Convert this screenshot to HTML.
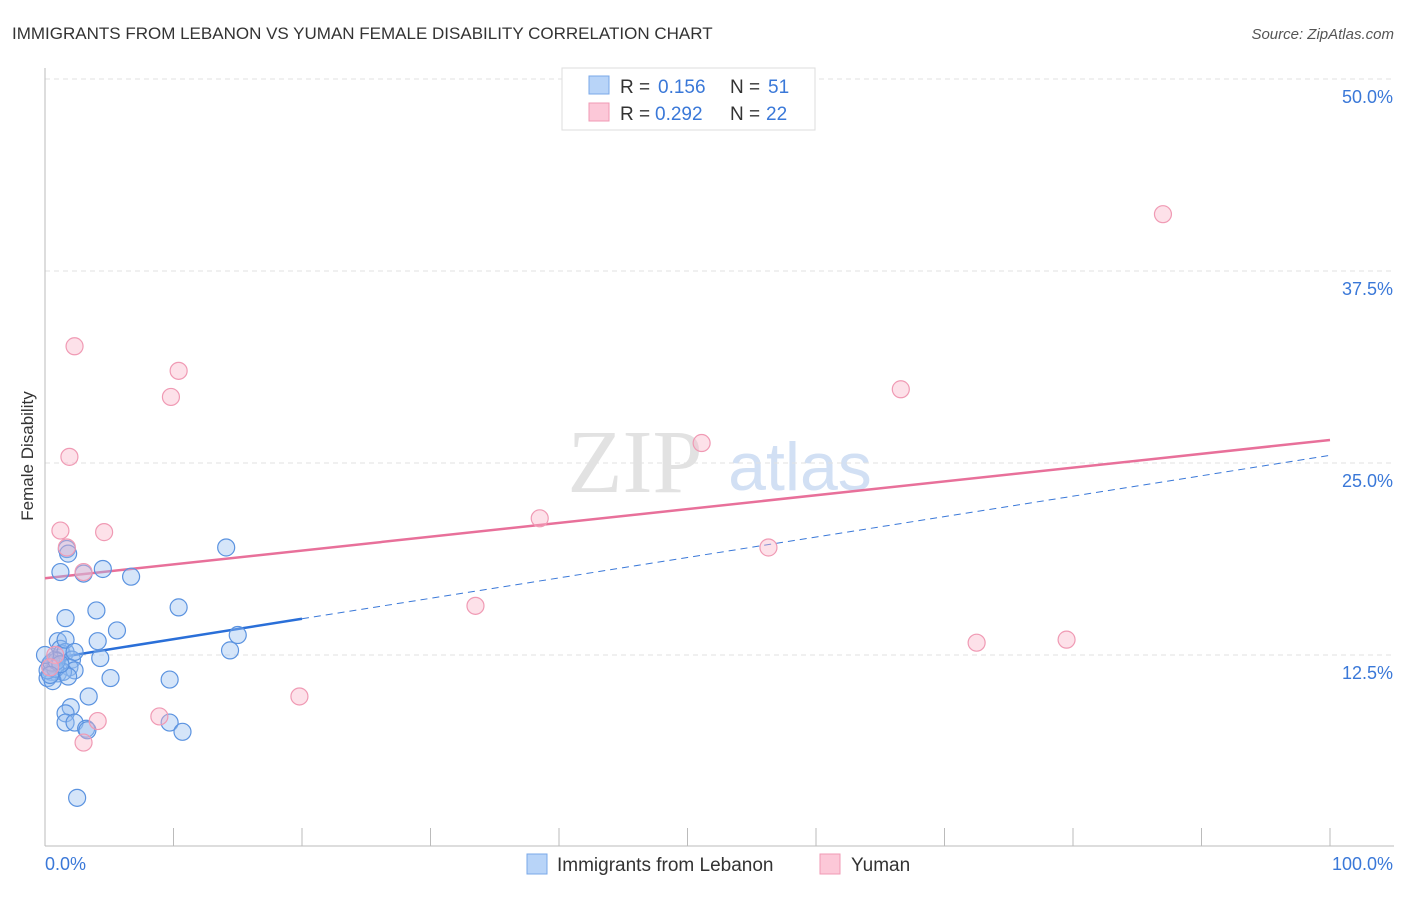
<!DOCTYPE html>
<html><head><meta charset="utf-8"><style>
body{margin:0;background:#fff;font-family:"Liberation Sans",sans-serif}
svg text{font-family:"Liberation Sans",sans-serif}
</style></head><body>
<svg id="c" width="1406" height="892">
<text x="12" y="39" font-size="17" fill="#333">IMMIGRANTS FROM LEBANON VS YUMAN FEMALE DISABILITY CORRELATION CHART</text>
<text x="1394" y="39" font-size="15" fill="#555" font-style="italic" text-anchor="end">Source: ZipAtlas.com</text>
<text x="33" y="456" font-size="17" fill="#333" transform="rotate(-90 33 456)" text-anchor="middle">Female Disability</text>
<text x="635" y="492" font-size="90" fill="#e2e2e2" text-anchor="middle" style="font-family:'Liberation Serif',serif">ZIP</text>
<text x="800" y="490" font-size="68" fill="#d2e0f4" text-anchor="middle">atlas</text>
<g id="grid"></g><g id="axes"></g><g id="lines"></g><g id="pts"></g>
<g>
<rect x="562" y="68" width="253" height="62" fill="#fff" stroke="#ddd"/>
<rect x="589" y="76" width="20" height="18" fill="#b8d4f8" stroke="#7aa8e8"/>
<rect x="589" y="103" width="20" height="18" fill="#fcc8d8" stroke="#f09ab4"/>
<text x="620" y="93" font-size="19" fill="#333">R =</text><text x="658" y="93" font-size="19" fill="#3a78d8">0.156</text>
<text x="730" y="93" font-size="19" fill="#333">N =</text><text x="768" y="93" font-size="19" fill="#3a78d8">51</text>
<text x="620" y="120" font-size="19" fill="#333">R =</text><text x="655" y="120" font-size="19" fill="#3a78d8">0.292</text>
<text x="730" y="120" font-size="19" fill="#333">N =</text><text x="766" y="120" font-size="19" fill="#3a78d8">22</text>
</g>
<g>
<rect x="527" y="854" width="20" height="20" fill="#b8d4f8" stroke="#7aa8e8"/>
<text x="557" y="871" font-size="19" fill="#333">Immigrants from Lebanon</text>
<rect x="820" y="854" width="20" height="20" fill="#fcc8d8" stroke="#f09ab4"/>
<text x="851" y="871" font-size="19" fill="#333">Yuman</text>
</g>
</svg>
<script>
const yTicks=[12.5,25,37.5,50];
const yTickLabels=["12.5%","25.0%","37.5%","50.0%"];
const blueX=[1.7,1.8,1.2,3.0,4.5,6.7,14.1,1.6,4.0,10.4,5.6,4.1,15.0,14.4,4.3,1.0,1.2,1.3,0.8,1.6,2.1,0.4,1.9,2.3,0.5,1.0,1.4,0.2,0.6,5.1,9.7,3.4,2.0,1.6,1.6,2.3,3.2,3.3,9.7,10.7,2.5,0.2,0.8,1.8,0.5,0.9,0.0,1.2,1.6,2.3,0.4];
const blueY=[19.4,19.1,17.9,17.8,18.1,17.6,19.5,14.9,15.4,15.6,14.1,13.4,13.8,12.8,12.3,13.4,12.9,12.6,12.2,12.7,12.2,11.9,11.7,11.5,11.4,11.3,11.4,11.0,10.8,11.0,10.9,9.8,9.1,8.7,8.1,8.1,7.7,7.6,8.1,7.5,3.2,11.5,11.6,11.1,12.0,12.1,12.5,11.9,13.5,12.7,11.2];
const pinkX=[2.3,10.4,9.8,51.1,66.6,87.0,1.9,1.2,4.6,38.5,56.3,3.0,1.7,33.5,72.5,79.5,19.8,8.9,4.1,3.0,0.8,0.4];
const pinkY=[32.6,31.0,29.3,26.3,29.8,41.2,25.4,20.6,20.5,21.4,19.5,17.9,19.5,15.7,13.3,13.5,9.8,8.5,8.2,6.8,12.5,11.7];
const pinkTrend=[17.5,26.5], blueTrend=[12.2,25.5];
const X=v=>45+v*12.85, Y=v=>847-v*15.36;
const NS="http://www.w3.org/2000/svg";
function mk(t,a,p){const e=document.createElementNS(NS,t);for(const k in a)e.setAttribute(k,a[k]);document.getElementById(p).appendChild(e);return e;}
yTicks.forEach((t,i)=>{
 const g=mk('line',{x1:45,x2:1394,y1:Y(t),y2:Y(t),stroke:'#e2e2e2','stroke-dasharray':'5,4'},'grid');
 
 
 const l=mk('text',{x:1393,y:Y(t)+24,'font-size':18,fill:'#3a78d8','text-anchor':'end'},'grid');
 l.textContent=yTickLabels[i];
 
 
});
mk('line',{x1:45,x2:45,y1:68,y2:846,stroke:'#bbb'},'axes');
mk('line',{x1:45,x2:1394,y1:846,y2:846,stroke:'#bbb'},'axes');
for(let i=0;i<=10;i++){mk('line',{x1:X(i*10),x2:X(i*10),y1:828,y2:846,stroke:'#bbb'},'axes');}
let t=mk('text',{x:45,y:870,'font-size':18,fill:'#3a78d8'},'axes');t.textContent='0.0%';


t=mk('text',{x:1393,y:870,'font-size':18,fill:'#3a78d8','text-anchor':'end'},'axes');t.textContent='100.0%';


const bAt=v=>blueTrend[0]+(blueTrend[1]-blueTrend[0])*v/100;
let ln=mk('line',{x1:X(20),y1:Y(bAt(20)),x2:X(100),y2:Y(bAt(100)),stroke:'#3a78d8','stroke-width':1,'stroke-dasharray':'7,5'},'lines');


ln=mk('line',{x1:X(0),y1:Y(bAt(0)),x2:X(20),y2:Y(bAt(20)),stroke:'#2a6fd8','stroke-width':2.5},'lines');


ln=mk('line',{x1:X(0),y1:Y(pinkTrend[0]),x2:X(100),y2:Y(pinkTrend[1]),stroke:'#e8709a','stroke-width':2.5},'lines');


blueX.forEach((x,i)=>{const c=mk('circle',{cx:X(x),cy:Y(blueY[i]),r:8.5,fill:'rgba(150,190,240,0.4)',stroke:'#5b93e0','stroke-width':1.2},'pts');
 
 });
pinkX.forEach((x,i)=>{const c=mk('circle',{cx:X(x),cy:Y(pinkY[i]),r:8.5,fill:'rgba(250,180,200,0.4)',stroke:'#f09ab4','stroke-width':1.2},'pts');
 
 });
</script>
</body></html>
